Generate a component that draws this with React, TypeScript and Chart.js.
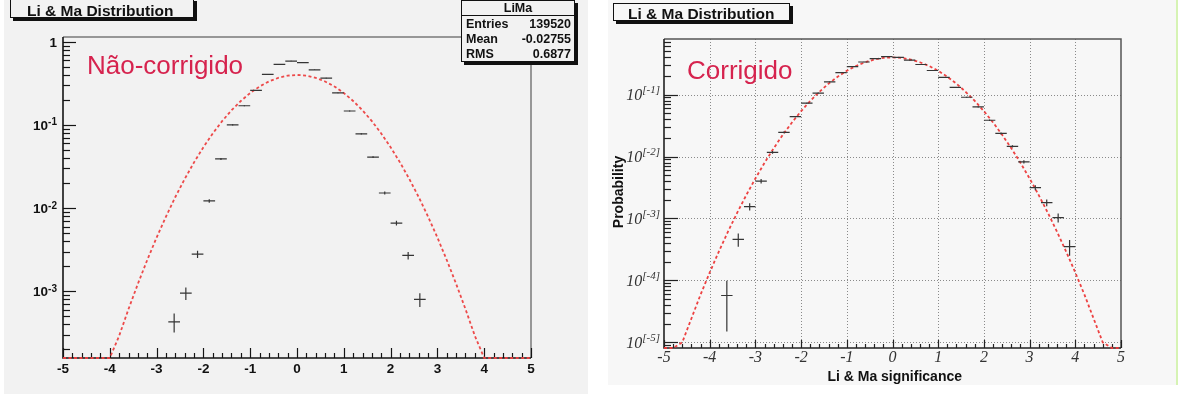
import React, { useEffect, useRef } from "react";
import { Chart, registerables } from "chart.js";

Chart.register(...registerables);

const SANS = "'Liberation Sans', Arial, Helvetica, sans-serif";
const SERIF = "'Liberation Serif', 'Times New Roman', serif";
const ACCENT = "#d6234e";

// Histogram bin width in significance units
const BIN_WIDTH = 0.25;

// Uncorrected Li & Ma significances (normalised bin contents)
const rawCenters = [
  -2.625, -2.375, -2.125, -1.875, -1.625, -1.375, -1.125, -0.875, -0.625, -0.375, -0.125,
  0.125, 0.375, 0.625, 0.875, 1.125, 1.375, 1.625, 1.875, 2.125, 2.375, 2.625,
];
const rawValues = [
  4.3e-4, 9.5e-4, 2.8e-3, 1.22e-2, 3.9e-2, 0.1, 0.17, 0.26, 0.405, 0.535, 0.585,
  0.56, 0.46, 0.365, 0.243, 0.147, 0.078, 0.041, 0.0152, 6.6e-3, 2.7e-3, 8.0e-4,
];
const rawErrors = [
  1.1e-4, 1.65e-4, 2.8e-4, 5.9e-4, 1.06e-3, 1.7e-3, 2.2e-3, 2.7e-3, 3.4e-3, 3.9e-3, 4.1e-3,
  4.0e-3, 3.6e-3, 3.2e-3, 2.6e-3, 2.05e-3, 1.5e-3, 1.08e-3, 6.6e-4, 4.3e-4, 2.8e-4, 1.5e-4,
];

// Corrected Li & Ma significances (probability per unit significance)
const corrCenters = [
  -3.625, -3.375, -3.125, -2.875, -2.625, -2.375, -2.125, -1.875, -1.625, -1.375, -1.125,
  -0.875, -0.625, -0.375, -0.125, 0.125, 0.375, 0.625, 0.875, 1.125, 1.375, 1.625,
  1.875, 2.125, 2.375, 2.625, 2.875, 3.125, 3.375, 3.625, 3.875,
];
const corrValues = [
  5.7e-5, 4.6e-4, 1.55e-3, 4.0e-3, 1.17e-2, 2.45e-2, 0.044, 0.0726, 0.106, 0.161, 0.227,
  0.283, 0.336, 0.38, 0.41, 0.4, 0.36, 0.306, 0.245, 0.19, 0.131, 0.0906,
  0.0635, 0.0385, 0.0236, 0.0146, 8.2e-3, 3.15e-3, 1.8e-3, 1.03e-3, 3.5e-4,
];
const corrErrors = [
  4.2e-5, 1.1e-4, 2.1e-4, 3.4e-4, 5.8e-4, 8.4e-4, 1.1e-3, 1.45e-3, 1.75e-3, 2.15e-3, 2.55e-3,
  2.85e-3, 3.1e-3, 3.3e-3, 3.4e-3, 3.4e-3, 3.2e-3, 2.95e-3, 2.65e-3, 2.35e-3, 1.95e-3, 1.6e-3,
  1.35e-3, 1.05e-3, 8.2e-4, 6.5e-4, 4.8e-4, 3.0e-4, 2.3e-4, 1.7e-4, 1.0e-4,
];

// Unit normal reference density
const refX = [
  -5, -4.8, -4.6, -4.4, -4.2, -4, -3.8, -3.6, -3.4, -3.2, -3, -2.8, -2.6, -2.4, -2.2, -2,
  -1.8, -1.6, -1.4, -1.2, -1, -0.8, -0.6, -0.4, -0.2, 0, 0.2, 0.4, 0.6, 0.8, 1, 1.2, 1.4,
  1.6, 1.8, 2, 2.2, 2.4, 2.6, 2.8, 3, 3.2, 3.4, 3.6, 3.8, 4, 4.2, 4.4, 4.6, 4.8, 5,
];
const refY = [
  1.49e-6, 3.96e-6, 1.0e-5, 2.43e-5, 5.89e-5, 1.34e-4, 2.92e-4, 6.12e-4, 1.23e-3, 2.38e-3,
  4.43e-3, 7.92e-3, 1.36e-2, 2.24e-2, 3.55e-2, 5.4e-2, 7.9e-2, 0.111, 0.15, 0.194, 0.242,
  0.29, 0.333, 0.368, 0.391, 0.399, 0.391, 0.368, 0.333, 0.29, 0.242, 0.194, 0.15, 0.111,
  7.9e-2, 5.4e-2, 3.55e-2, 2.24e-2, 1.36e-2, 7.92e-3, 4.43e-3, 2.38e-3, 1.23e-3, 6.12e-4,
  2.92e-4, 1.34e-4, 5.89e-5, 2.43e-5, 1.0e-5, 3.96e-6, 1.49e-6,
];

// Axis labels
const xTickValues = [-5, -4, -3, -2, -1, 0, 1, 2, 3, 4, 5];
const xTickLabels = ["-5", "-4", "-3", "-2", "-1", "0", "1", "2", "3", "4", "5"];

const rawDecades = [1, 0.1, 0.01, 0.001];
const rawDecadeBase = ["1", "10", "10", "10"];
const rawDecadeExp = ["", "-1", "-2", "-3"];

const corrDecades = [0.1, 0.01, 0.001, 1e-4, 1e-5];
const corrDecadeBase = ["10", "10", "10", "10", "10"];
const corrDecadeExp = ["[-1]", "[-2]", "[-3]", "[-4]", "[-5]"];

const statsTitle = "LiMa";
const statsLabels = ["Entries", "Mean", "RMS"];
const statsValues = ["139520", "-0.02755", "0.6877"];

type Pad = { left: number; top: number; right: number; bottom: number };

type PanelStyle = {
  grid: boolean;
  axisColor: string;
  frameColor: string;
  xMajor: number;
  xMinor: number;
  yMajor: number;
  yMinor: number;
  xLabelFont: string;
  xLabelColor: string;
  xLabelOffset: number;
  yBaseFont: string;
  yExpFont: string;
  yLabelColor: string;
  yLabelGap: number;
  yBaseDrop: number;
  yExpDrop: number;
  decades: number[];
  decadeBase: string[];
  decadeExp: string[];
};

function titleBox(
  ctx: CanvasRenderingContext2D,
  x: number,
  y: number,
  w: number,
  h: number,
  fill: string
) {
  ctx.save();
  ctx.fillStyle = "#111";
  ctx.fillRect(x + 3, y + 3, w, h);
  ctx.fillStyle = fill;
  ctx.fillRect(x, y, w, h);
  ctx.strokeStyle = "#111";
  ctx.lineWidth = 1;
  ctx.strokeRect(x + 0.5, y + 0.5, w - 1, h - 1);
  ctx.restore();
}

function drawAxes(chart: Chart, s: PanelStyle) {
  const ctx = chart.ctx;
  const a = chart.chartArea;
  const xs = chart.scales.x;
  const ys = chart.scales.y;
  const yMin = ys.min as number;
  const yMax = ys.max as number;
  ctx.save();

  if (s.grid) {
    ctx.strokeStyle = "#8a8a8a";
    ctx.lineWidth = 1;
    ctx.setLineDash([1, 2]);
    xTickValues.forEach((v) => {
      const px = Math.round(xs.getPixelForValue(v)) + 0.5;
      if (px <= a.left + 1 || px >= a.right - 1) return;
      ctx.beginPath();
      ctx.moveTo(px, a.top);
      ctx.lineTo(px, a.bottom);
      ctx.stroke();
    });
    s.decades.forEach((v) => {
      const py = Math.round(ys.getPixelForValue(v)) + 0.5;
      ctx.beginPath();
      ctx.moveTo(a.left, py);
      ctx.lineTo(a.right, py);
      ctx.stroke();
    });
    ctx.setLineDash([]);
  }

  // frame: top and right
  ctx.strokeStyle = s.frameColor;
  ctx.lineWidth = 1.5;
  ctx.beginPath();
  ctx.moveTo(a.left, a.top);
  ctx.lineTo(a.right, a.top);
  ctx.lineTo(a.right, a.bottom);
  ctx.stroke();

  // axes
  ctx.strokeStyle = s.axisColor;
  ctx.lineWidth = 1.6;
  ctx.beginPath();
  ctx.moveTo(a.left, a.top);
  ctx.lineTo(a.left, a.bottom);
  ctx.lineTo(a.right, a.bottom);
  ctx.stroke();

  // x ticks pointing inward
  ctx.lineWidth = 1.2;
  for (let i = 0; i <= 50; i++) {
    const v = -5 + i * 0.2;
    const px = Math.round(xs.getPixelForValue(v)) + 0.5;
    const len = i % 5 === 0 ? s.xMajor : s.xMinor;
    ctx.beginPath();
    ctx.moveTo(px, a.bottom);
    ctx.lineTo(px, a.bottom - len);
    ctx.stroke();
  }

  // y ticks, decades and 2..9 subdivisions
  const lo = Math.floor(Math.log10(yMin));
  const hi = Math.ceil(Math.log10(yMax));
  for (let d = lo; d <= hi; d++) {
    for (let k = 1; k <= 9; k++) {
      const v = k * Math.pow(10, d);
      if (v < yMin || v > yMax) continue;
      const py = Math.round(ys.getPixelForValue(v)) + 0.5;
      const len = k === 1 ? s.yMajor : s.yMinor;
      ctx.beginPath();
      ctx.moveTo(a.left, py);
      ctx.lineTo(a.left + len, py);
      ctx.stroke();
    }
  }

  // x labels
  ctx.fillStyle = s.xLabelColor;
  ctx.font = s.xLabelFont;
  ctx.textAlign = "center";
  ctx.textBaseline = "alphabetic";
  xTickValues.forEach((v, i) => {
    ctx.fillText(xTickLabels[i], xs.getPixelForValue(v), a.bottom + s.xLabelOffset);
  });

  // y labels with superscript exponents
  ctx.fillStyle = s.yLabelColor;
  ctx.textAlign = "left";
  s.decades.forEach((v, i) => {
    const py = ys.getPixelForValue(v);
    const right = a.left - s.yLabelGap;
    const base = s.decadeBase[i];
    const exp = s.decadeExp[i];
    ctx.font = s.yExpFont;
    const we = exp ? ctx.measureText(exp).width : 0;
    ctx.font = s.yBaseFont;
    const wb = ctx.measureText(base).width;
    ctx.fillText(base, right - we - wb, py + s.yBaseDrop);
    if (exp) {
      ctx.font = s.yExpFont;
      ctx.fillText(exp, right - we, py + s.yExpDrop);
    }
  });

  ctx.restore();
}

function binDatasets(centers: number[], values: number[], errors: number[]) {
  const hBars: { x: number; y: number | null }[] = [];
  const vBars: { x: number; y: number | null }[] = [];
  centers.forEach((c, i) => {
    hBars.push({ x: c - BIN_WIDTH / 2, y: values[i] });
    hBars.push({ x: c + BIN_WIDTH / 2, y: values[i] });
    hBars.push({ x: c, y: null });
    vBars.push({ x: c, y: values[i] - errors[i] });
    vBars.push({ x: c, y: values[i] + errors[i] });
    vBars.push({ x: c, y: null });
  });
  const common = {
    showLine: true,
    spanGaps: false,
    pointRadius: 0,
    borderColor: "#353535",
    borderWidth: 1.2,
    fill: false,
  };
  return [
    { ...common, label: "bins", data: hBars },
    { ...common, label: "errors", data: vBars },
  ];
}

function buildChart(
  canvas: HTMLCanvasElement,
  centers: number[],
  values: number[],
  errors: number[],
  yMin: number,
  yMax: number,
  padding: Pad,
  style: PanelStyle,
  curveColor: string,
  decorate: (ctx: CanvasRenderingContext2D) => void
) {
  const curve = refX.map((x, i) => ({ x, y: Math.max(refY[i], yMin) }));
  return new Chart(canvas, {
    type: "scatter",
    data: {
      datasets: [
        ...binDatasets(centers, values, errors),
        {
          label: "N(0,1)",
          data: curve,
          showLine: true,
          pointRadius: 0,
          borderColor: curveColor,
          borderWidth: 1.8,
          borderDash: [3, 2.5],
          fill: false,
          clip: { left: 0, top: 0, right: 0, bottom: 2 },
        } as any,
      ],
    },
    options: {
      animation: false,
      responsive: false,
      events: [],
      layout: { padding },
      plugins: { legend: { display: false }, tooltip: { enabled: false }, title: { display: false } },
      scales: {
        x: { type: "linear", min: -5, max: 5, display: false },
        y: { type: "logarithmic", min: yMin, max: yMax, display: false },
      },
    },
    plugins: [
      {
        id: "rootAxes",
        beforeDatasetsDraw(chart: Chart) {
          drawAxes(chart, style);
        },
        afterDraw(chart: Chart) {
          decorate(chart.ctx);
        },
      },
    ],
  });
}

const rawStyle: PanelStyle = {
  grid: false,
  axisColor: "#151515",
  frameColor: "#7a7a7a",
  xMajor: 10,
  xMinor: 5,
  yMajor: 13,
  yMinor: 7,
  xLabelFont: `bold 13.5px ${SANS}`,
  xLabelColor: "#111",
  xLabelOffset: 15,
  yBaseFont: `bold 13.5px ${SANS}`,
  yExpFont: `bold 10px ${SANS}`,
  yLabelColor: "#111",
  yLabelGap: 6,
  yBaseDrop: 5,
  yExpDrop: 0.5,
  decades: rawDecades,
  decadeBase: rawDecadeBase,
  decadeExp: rawDecadeExp,
};

const corrStyle: PanelStyle = {
  grid: true,
  axisColor: "#222",
  frameColor: "#555",
  xMajor: 8,
  xMinor: 4,
  yMajor: 14,
  yMinor: 7,
  xLabelFont: `italic 16px ${SERIF}`,
  xLabelColor: "#333",
  xLabelOffset: 14,
  yBaseFont: `italic 16px ${SERIF}`,
  yExpFont: `italic 11px ${SERIF}`,
  yLabelColor: "#333",
  yLabelGap: 4,
  yBaseDrop: 5.5,
  yExpDrop: -1.5,
  decades: corrDecades,
  decadeBase: corrDecadeBase,
  decadeExp: corrDecadeExp,
};

function decorateRaw(ctx: CanvasRenderingContext2D) {
  ctx.save();
  // title
  titleBox(ctx, 10, -2, 184, 20, "#f2f2f2");
  ctx.fillStyle = "#111";
  ctx.font = `bold 15.5px ${SANS}`;
  ctx.textAlign = "left";
  ctx.textBaseline = "alphabetic";
  ctx.fillText("Li & Ma Distribution", 27, 16);

  // statistics box
  titleBox(ctx, 461, 0, 114, 62, "#f2f2f2");
  ctx.strokeStyle = "#111";
  ctx.lineWidth = 1;
  ctx.beginPath();
  ctx.moveTo(461, 15.5);
  ctx.lineTo(575, 15.5);
  ctx.stroke();
  ctx.fillStyle = "#111";
  ctx.font = `bold 12.5px ${SANS}`;
  ctx.textAlign = "center";
  ctx.fillText(statsTitle, 518, 12);
  const rows = [28, 43, 57.5];
  statsLabels.forEach((lab, i) => {
    ctx.textAlign = "left";
    ctx.fillText(lab, 466, rows[i]);
    ctx.textAlign = "right";
    ctx.fillText(statsValues[i], 571, rows[i]);
  });

  // panel caption
  ctx.fillStyle = ACCENT;
  ctx.font = `26px ${SANS}`;
  ctx.textAlign = "left";
  ctx.fillText("Não-corrigido", 87, 74);
  ctx.restore();
}

function decorateCorr(ctx: CanvasRenderingContext2D) {
  ctx.save();
  titleBox(ctx, 13, 3, 177, 18, "#f7f7f7");
  ctx.fillStyle = "#111";
  ctx.font = `bold 15.5px ${SANS}`;
  ctx.textAlign = "left";
  ctx.textBaseline = "alphabetic";
  ctx.fillText("Li & Ma Distribution", 28, 18.5);

  ctx.fillStyle = ACCENT;
  ctx.font = `26px ${SANS}`;
  ctx.fillText("Corrigido", 87, 78.5);

  // axis titles
  ctx.fillStyle = "#111";
  ctx.font = `bold 14px ${SANS}`;
  ctx.textAlign = "right";
  ctx.fillText("Li & Ma significance", 362, 381);

  ctx.translate(19, 192);
  ctx.rotate(-Math.PI / 2);
  ctx.textAlign = "center";
  ctx.textBaseline = "middle";
  ctx.font = `bold 14px ${SANS}`;
  ctx.fillText("Probability", 0, 0);
  ctx.restore();
}

export default function App() {
  const leftRef = useRef<HTMLCanvasElement | null>(null);
  const rightRef = useRef<HTMLCanvasElement | null>(null);

  useEffect(() => {
    if (!leftRef.current || !rightRef.current) return;
    const left = buildChart(
      leftRef.current,
      rawCenters,
      rawValues,
      rawErrors,
      1.58e-4,
      1.14,
      { left: 63, top: 37, right: 59, bottom: 36 },
      rawStyle,
      "rgba(236, 64, 64, 0.95)",
      decorateRaw
    );
    const right = buildChart(
      rightRef.current,
      corrCenters,
      corrValues,
      corrErrors,
      8.1e-6,
      0.79,
      { left: 64, top: 39, right: 60, bottom: 46 },
      corrStyle,
      "rgba(236, 56, 56, 0.95)",
      decorateCorr
    );
    return () => {
      left.destroy();
      right.destroy();
    };
  }, []);

  return (
    <div
      style={{
        position: "fixed",
        left: 0,
        top: 0,
        width: 1181,
        height: 394,
        background: "#ffffff",
        overflow: "hidden",
      }}
    >
      <div style={{ position: "absolute", left: 4, top: 0, width: 584, height: 394, background: "#f2f2f2" }} />
      <div style={{ position: "absolute", left: 608, top: 0, width: 569, height: 385, background: "#f7f7f7" }} />
      <div style={{ position: "absolute", left: 1176, top: 0, width: 2, height: 385, background: "#d6f3b4" }} />
      <canvas
        ref={leftRef}
        width={590}
        height={394}
        style={{ position: "absolute", left: 0, top: 0, width: 590, height: 394 }}
      />
      <canvas
        ref={rightRef}
        width={581}
        height={394}
        style={{ position: "absolute", left: 600, top: 0, width: 581, height: 394 }}
      />
    </div>
  );
}
